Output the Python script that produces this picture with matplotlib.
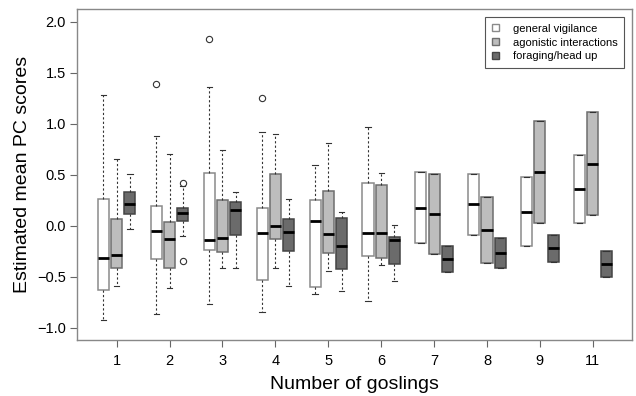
import matplotlib
matplotlib.use("Agg")
import matplotlib.pyplot as plt
from matplotlib.patches import Patch

plt.rcParams["font.family"] = ["Liberation Sans", "DejaVu Sans"]

goslings = ["1", "2", "3", "4", "5", "6", "7", "8", "9", "11"]

# general vigilance
vig_lo = [-0.925, -0.866, -0.765, -0.846, -0.67, -0.733, -0.17, -0.085, -0.193, 0.026]
vig_q1 = [-0.63, -0.324, -0.24, -0.533, -0.60, -0.295, -0.17, -0.085, -0.193, 0.026]
vig_med = [-0.31, -0.046, -0.137, -0.072, 0.046, -0.072, 0.18, 0.212, 0.14, 0.363]
vig_q3 = [0.265, 0.196, 0.523, 0.18, 0.255, 0.418, 0.53, 0.51, 0.48, 0.696]
vig_hi = [1.28, 0.885, 1.366, 0.925, 0.598, 0.975, 0.53, 0.51, 0.48, 0.696]
vig_out = [[], [1.395], [1.837], [1.258], [], [], [], [], [], []]

# agonistic interactions
ago_lo = [-0.59, -0.61, -0.41, -0.41, -0.444, -0.378, -0.275, -0.366, 0.026, 0.105]
ago_q1 = [-0.415, -0.41, -0.258, -0.13, -0.268, -0.317, -0.275, -0.366, 0.026, 0.105]
ago_med = [-0.28, -0.13, -0.114, 0.0, -0.075, -0.07, 0.118, -0.036, 0.53, 0.608]
ago_q3 = [0.065, 0.042, 0.252, 0.507, 0.346, 0.405, 0.51, 0.288, 1.032, 1.114]
ago_hi = [0.66, 0.703, 0.742, 0.905, 0.817, 0.518, 0.51, 0.288, 1.032, 1.114]
ago_out = [[], [], [], [], [], [], [], [], [], []]

# foraging/head up
for_lo = [-0.03, -0.095, -0.415, -0.585, -0.637, -0.54, -0.45, -0.408, -0.35, -0.503]
for_q1 = [0.115, 0.05, -0.085, -0.242, -0.425, -0.372, -0.45, -0.408, -0.35, -0.503]
for_med = [0.215, 0.13, 0.154, -0.062, -0.193, -0.138, -0.324, -0.261, -0.216, -0.37]
for_q3 = [0.33, 0.18, 0.232, 0.066, 0.08, -0.109, -0.196, -0.114, -0.085, -0.242]
for_hi = [0.51, 0.39, 0.336, 0.262, 0.134, 0.012, -0.196, -0.114, -0.085, -0.242]
for_out = [[], [0.42, -0.343], [], [], [], [], [], [], [], []]

series = [
    ("general vigilance", "white", "#8a8a8a", vig_lo, vig_q1, vig_med, vig_q3, vig_hi, vig_out),
    ("agonistic interactions", "#bdbdbd", "#6e6e6e", ago_lo, ago_q1, ago_med, ago_q3, ago_hi, ago_out),
    ("foraging/head up", "#6b6b6b", "#444444", for_lo, for_q1, for_med, for_q3, for_hi, for_out),
]

fig = plt.figure(figsize=(6.36, 3.96), dpi=100)
ax = fig.add_axes([0.121, 0.1414, 0.8727, 0.8358])

base = list(range(1, len(goslings) + 1))
offsets = [-0.25, 0.0, 0.25]
handles = []
for (label, fill, edge, lo, q1, med, q3, hi, out), off in zip(series, offsets):
    stats = []
    for i in range(len(goslings)):
        stats.append(dict(whislo=lo[i], q1=q1[i], med=med[i], q3=q3[i],
                          whishi=hi[i], fliers=out[i]))
    ax.bxp(stats, positions=[b + off for b in base], widths=0.21,
           capwidths=0.1, patch_artist=True, manage_ticks=False,
           boxprops=dict(facecolor=fill, edgecolor=edge, linewidth=1.1),
           medianprops=dict(color="black", linewidth=2.0),
           whiskerprops=dict(color="#333333", linewidth=0.8, linestyle=(0, (2, 2))),
           capprops=dict(color="#333333", linewidth=0.8),
           flierprops=dict(marker="o", markersize=4.5, markerfacecolor="none",
                           markeredgecolor="#333333", markeredgewidth=0.8))
    handles.append(Patch(facecolor=fill, edgecolor=edge, linewidth=1.0, label=label))

ax.set_xlim(0.25, 10.74)
ax.set_ylim(-1.118, 2.127)
ax.set_xticks(base)
ax.set_xticklabels(goslings)
ax.set_yticks([-1.0, -0.5, 0.0, 0.5, 1.0, 1.5, 2.0])
ax.set_yticklabels(["\u22121.0", "\u22120.5", "0.0", "0.5", "1.0", "1.5", "2.0"])
ax.tick_params(axis="both", direction="out", length=5, width=0.8,
               color="#666666", labelsize=10.5, pad=3)
ax.tick_params(axis="x", pad=5)
for sp in ax.spines.values():
    sp.set_color("#888888")
    sp.set_linewidth(1.0)

ax.set_ylabel("Estimated mean PC scores", fontsize=14, labelpad=4)
ax.set_xlabel("Number of goslings", fontsize=14, labelpad=6)

leg = ax.legend(handles=handles, loc="upper right", fontsize=8,
                handlelength=0.6, handleheight=0.6, handletextpad=1.25,
                borderpad=0.6, labelspacing=0.35, fancybox=False,
                framealpha=1, edgecolor="#555555", borderaxespad=0,
                bbox_to_anchor=(0.9856, 0.976))
leg.get_frame().set_linewidth(0.8)

fig.savefig("out.png", dpi=100)
